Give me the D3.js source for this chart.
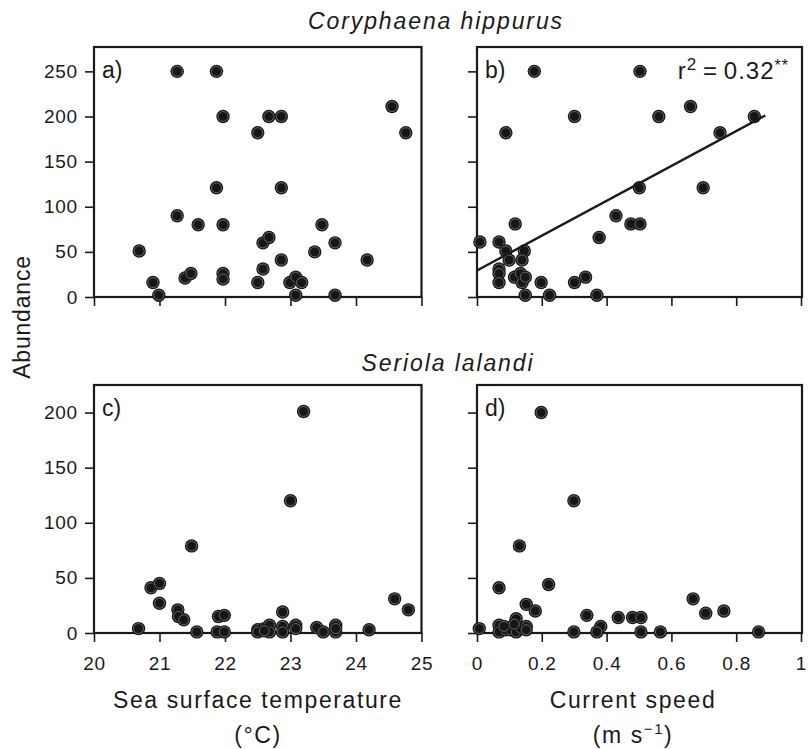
<!DOCTYPE html>
<html>
<head>
<meta charset="utf-8">
<script src="https://cdn.jsdelivr.net/npm/d3@7"></script>
<style>
body { margin: 0; background: #fff; }
svg text { font-family: "Liberation Sans", Arial, Helvetica, sans-serif; fill: #1a1a1a; }
</style>
</head>
<body>
<script>
// Coryphaena hippurus, abundance vs SST (panel a)
var sstDolphin = [21.27, 21.87, 21.97, 22.67, 22.86, 22.5, 24.55, 24.76, 21.87, 22.86,
  21.27, 21.59, 21.97, 23.48, 22.58, 22.67, 23.68, 20.69, 23.37, 22.86,
  24.17, 20.9, 21.39, 21.48, 21.97, 21.97, 22.58, 22.5, 22.99, 23.08,
  23.17, 20.99, 23.08, 23.68];
var abDolphinA = [250, 250, 200, 200, 200, 182, 211, 182, 121, 121,
  90, 80, 80, 80, 60, 66, 60, 51, 50, 41,
  41, 16, 21, 26, 26, 20, 31, 16, 16, 22,
  16, 2, 2, 2];

// Coryphaena hippurus, abundance vs current speed (panel b)
var curDolphin = [0.177, 0.503, 0.301, 0.561, 0.659, 0.856, 0.089, 0.75, 0.501, 0.698,
  0.429, 0.475, 0.503, 0.118, 0.377, 0.009, 0.068, 0.089, 0.146, 0.099,
  0.139, 0.068, 0.068, 0.068, 0.116, 0.134, 0.139, 0.149, 0.198, 0.301,
  0.335, 0.149, 0.224, 0.37];
var abDolphinB = [250, 250, 200, 200, 211, 200, 182, 182, 121, 121,
  90, 81, 81, 81, 66, 61, 61, 51, 51, 41,
  41, 31, 26, 16, 22, 26, 16, 22, 16, 16,
  22, 2, 2, 2];
var fitB = { intercept: 29.4, slope: 193, xMax: 0.89 };

// Seriola lalandi, abundance vs SST (panel c)
var sstAmber = [23.2, 23.0, 21.49, 20.87, 21.0, 21.0, 21.28, 21.29, 21.37, 20.68,
  21.57, 21.9, 21.99, 21.88, 21.99, 22.5, 22.6, 22.68, 22.68, 22.88,
  22.88, 22.88, 23.08, 23.08, 23.4, 23.5, 23.69, 23.69, 24.2, 24.59,
  24.8, 22.5, 22.6, 23.69];
var abAmberC = [201, 120, 79, 41, 45, 27, 21, 15, 12, 4,
  1, 15, 16, 1, 1, 3, 4, 7, 1, 19,
  6, 1, 7, 4, 5, 1, 7, 1, 3, 31,
  21, 1, 2, 4];

// Seriola lalandi, abundance vs current speed (panel d)
var curAmber = [0.198, 0.299, 0.131, 0.068, 0.221, 0.152, 0.18, 0.121, 0.007, 0.068,
  0.068, 0.087, 0.102, 0.121, 0.136, 0.152, 0.152, 0.299, 0.339, 0.382,
  0.37, 0.436, 0.48, 0.506, 0.506, 0.566, 0.667, 0.706, 0.762, 0.869,
  0.083, 0.115];
var abAmberD = [200, 120, 79, 41, 44, 26, 20, 13, 4, 7,
  1, 3, 3, 1, 4, 6, 3, 1, 16, 6,
  1, 14, 14, 14, 1, 1, 31, 18, 20, 1,
  6, 8];

var sstTicks = [20, 21, 22, 23, 24, 25];
var curTicks = [0, 0.2, 0.4, 0.6, 0.8, 1];
var topTicks = [0, 50, 100, 150, 200, 250];
var bottomTicks = [0, 50, 100, 150, 200];

var W = 808, H = 749;
var svg = d3.select("body").append("svg")
  .attr("width", W)
  .attr("height", H);

var xSst = d3.scaleLinear().domain([20, 25]).range([94, 421.5]);
var xCur = d3.scaleLinear().domain([0, 1]).range([477, 801]);
var yTop = d3.scaleLinear().domain([0, 277]).range([297, 47]);
var yBot = d3.scaleLinear().domain([0, 225]).range([633, 385]);

function fmtCur(d) { return d === 0 ? "0" : d === 1 ? "1" : d3.format(".1f")(d); }

function panel(x, y, xTicks, yTicks, showX, showY, xs, ys, label, xRight) {
  var g = svg.append("g");
  var x0 = x.range()[0], x1 = xRight || x.range()[1];
  var y0 = y.range()[0], y1 = y.range()[1];

  var ax = d3.axisBottom(x).tickValues(xTicks).tickSize(9).tickPadding(15)
    .tickFormat(showX ? (xTicks === curTicks ? fmtCur : d3.format("d")) : "");
  g.append("g").attr("transform", "translate(0," + y0 + ")").call(ax)
    .call(function(s) { s.select(".domain").remove(); });

  var ay = d3.axisLeft(y).tickValues(yTicks).tickSize(9).tickPadding(7)
    .tickFormat(showY ? d3.format("d") : "");
  g.append("g").attr("transform", "translate(" + x0 + ",0)").call(ay)
    .call(function(s) { s.select(".domain").remove(); });

  g.selectAll(".tick line").attr("stroke", "#1a1a1a").attr("stroke-width", 1.6);
  g.selectAll(".tick text").attr("font-size", 19).attr("letter-spacing", 0.8)
    .style("font-family", "'Liberation Sans', Arial, sans-serif").attr("fill", "#1a1a1a");

  g.append("rect")
    .attr("x", x0).attr("y", y1)
    .attr("width", x1 - x0).attr("height", y0 - y1)
    .attr("fill", "none").attr("stroke", "#1a1a1a").attr("stroke-width", 2.2);

  g.append("text").attr("x", x0 + 8).attr("y", y1 + 31)
    .attr("font-size", 23).text(label);

  var pts = g.selectAll(".pt").data(xs.map(function(v, i) { return [v, ys[i]]; }))
    .enter().append("g").attr("class", "pt")
    .attr("transform", function(d) { return "translate(" + x(d[0]) + "," + y(d[1]) + ")"; });
  pts.append("circle").attr("r", 6.7).attr("fill", "#161616");
  pts.append("circle").attr("r", 5).attr("fill", "none")
    .attr("stroke", "#8a8a8a").attr("stroke-width", 0.7);
  return g;
}

panel(xSst, yTop, sstTicks, topTicks, false, true, sstDolphin, abDolphinA, "a)");
var gb = panel(xCur, yTop, curTicks, topTicks, false, false, curDolphin, abDolphinB, "b)", 802);
panel(xSst, yBot, sstTicks, bottomTicks, true, true, sstAmber, abAmberC, "c)");
panel(xCur, yBot, curTicks, bottomTicks, true, false, curAmber, abAmberD, "d)", 802);

// regression line in b
gb.append("line")
  .attr("x1", xCur(0)).attr("y1", yTop(fitB.intercept))
  .attr("x2", xCur(fitB.xMax)).attr("y2", yTop(fitB.intercept + fitB.slope * fitB.xMax))
  .attr("stroke", "#1a1a1a").attr("stroke-width", 2.4);

var r2 = gb.append("text").attr("x", 789).attr("y", 79)
  .attr("text-anchor", "end").attr("font-size", 24).attr("letter-spacing", 1);
r2.append("tspan").text("r");
r2.append("tspan").attr("dy", -9).attr("font-size", 17).text("2");
r2.append("tspan").attr("dy", 9).text("\u2009=\u20090.32");
r2.append("tspan").attr("dy", -8).attr("font-size", 16).text("**");

// species titles
svg.append("text").attr("x", 436).attr("y", 29).attr("text-anchor", "middle")
  .attr("font-size", 23).attr("font-style", "italic").attr("letter-spacing", 1.9)
  .text("Coryphaena hippurus");
svg.append("text").attr("x", 448).attr("y", 371).attr("text-anchor", "middle")
  .attr("font-size", 23).attr("font-style", "italic").attr("letter-spacing", 1.9)
  .text("Seriola lalandi");

// axis titles
svg.append("text").attr("transform", "translate(30,317) rotate(-90)")
  .attr("text-anchor", "middle").attr("font-size", 23).attr("letter-spacing", 0.8)
  .text("Abundance");

svg.append("text").attr("x", 258).attr("y", 708).attr("text-anchor", "middle")
  .attr("font-size", 23).attr("letter-spacing", 1.6).text("Sea surface temperature");
svg.append("text").attr("x", 258).attr("y", 743).attr("text-anchor", "middle")
  .attr("font-size", 23).attr("letter-spacing", 1.6).text("(\u00B0C)");

svg.append("text").attr("x", 633).attr("y", 708).attr("text-anchor", "middle")
  .attr("font-size", 23).attr("letter-spacing", 1.6).text("Current speed");
var unit = svg.append("text").attr("x", 633).attr("y", 743).attr("text-anchor", "middle")
  .attr("font-size", 23).attr("letter-spacing", 1.6);
unit.append("tspan").text("(m s");
unit.append("tspan").attr("dy", -9).attr("font-size", 15).text("\u22121");
unit.append("tspan").attr("dy", 9).text(")");
</script>
</body>
</html>
